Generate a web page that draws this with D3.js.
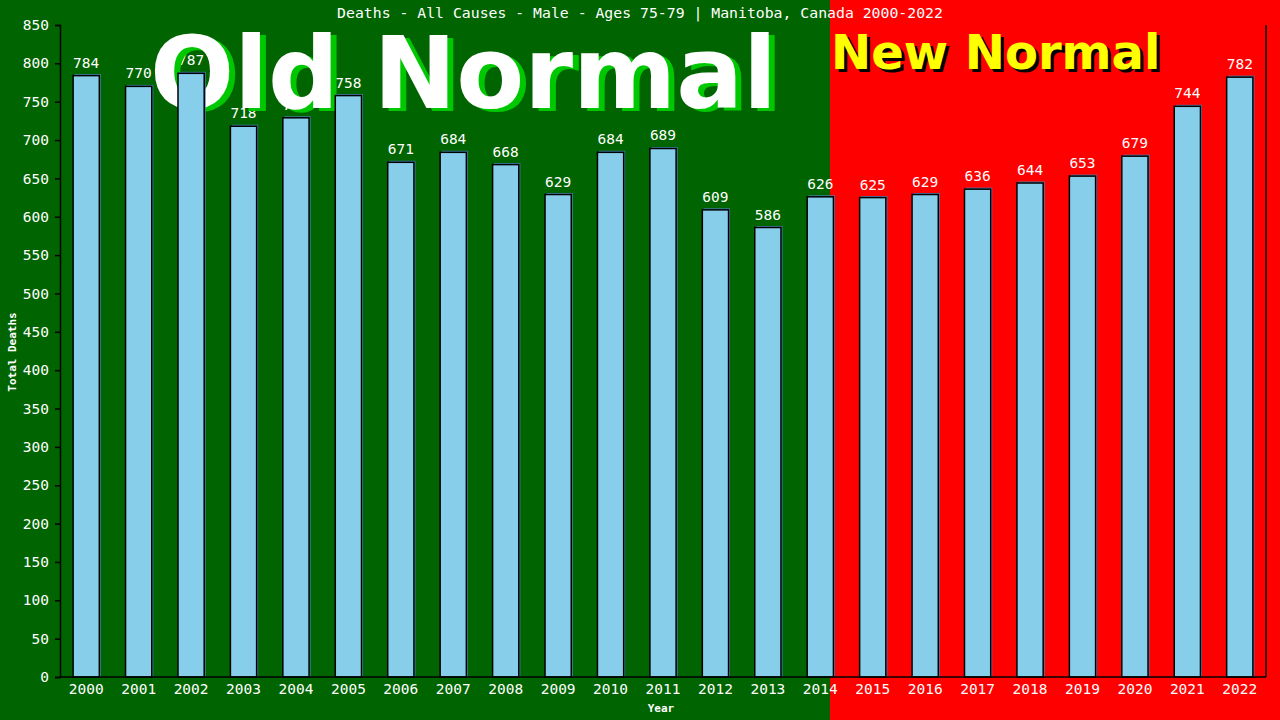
<!DOCTYPE html>
<html>
<head>
<meta charset="utf-8">
<script src="https://cdn.jsdelivr.net/npm/d3@7"></script>
<style>
  html, body { margin: 0; padding: 0; background: #006400; }
  svg { display: block; }
  text { font-family: "DejaVu Sans Mono", monospace; fill: #fff; }
</style>
</head>
<body>
<svg id="chart" width="1280" height="720"></svg>
<script>
// data
var years = ["2000","2001","2002","2003","2004","2005","2006","2007","2008","2009","2010","2011",
             "2012","2013","2014","2015","2016","2017","2018","2019","2020","2021","2022"];
var deaths = [784, 770, 787, 718, 729, 758, 671, 684, 668, 629, 684, 689,
              609, 586, 626, 625, 629, 636, 644, 653, 679, 744, 782];
var yTicks = d3.range(0, 851, 50);
var title = "Deaths - All Causes - Male - Ages 75-79 | Manitoba, Canada 2000-2022";

var svg = d3.select("#chart");
var W = 1280, H = 720;
var margin = { top: 25, right: 14, bottom: 43, left: 60 };
var splitX = 830;

var x = d3.scaleBand()
    .domain(years)
    .range([margin.left, W - margin.right])
    .paddingInner(0.5)
    .paddingOuter(0.25);

var y = d3.scaleLinear()
    .domain([0, 850])
    .range([H - margin.bottom, margin.top]);

// backgrounds: old normal / new normal
svg.append("rect").attr("x", 0).attr("y", 0).attr("width", splitX).attr("height", H).attr("fill", "#006400");
svg.append("rect").attr("x", splitX).attr("y", 0).attr("width", W - splitX).attr("height", H).attr("fill", "#ff0000");

// value labels (drawn under the big caption)
svg.append("g").selectAll("text")
    .data(deaths)
    .enter()
    .append("text")
    .attr("x", function(d, i) { return x(years[i]) + x.bandwidth() / 2; })
    .attr("y", function(d) { return y(d) - 8; })
    .attr("text-anchor", "middle")
    .attr("font-size", "14.5px")
    .text(function(d) { return d; });

// big captions
svg.append("text").attr("x", 156).attr("y", 111)
    .style("font-family", "'DejaVu Sans', sans-serif").style("font-weight", "bold")
    .attr("font-size", "99px").style("fill", "#00c800").text("Old Normal");
svg.append("text").attr("x", 150).attr("y", 108)
    .style("font-family", "'DejaVu Sans', sans-serif").style("font-weight", "bold")
    .attr("font-size", "99px").style("fill", "#ffffff").text("Old Normal");

svg.append("text").attr("x", 834).attr("y", 72)
    .style("font-family", "'DejaVu Sans', sans-serif").style("font-weight", "bold")
    .attr("font-size", "48px").style("fill", "#000").text("New Normal");
svg.append("text").attr("x", 831).attr("y", 69)
    .style("font-family", "'DejaVu Sans', sans-serif").style("font-weight", "bold")
    .attr("font-size", "48px").style("fill", "#ffff00").text("New Normal");

// bars: steelblue edge behind, skyblue body with black outline
var bars = svg.append("g");
bars.selectAll("rect.edge")
    .data(deaths)
    .enter()
    .append("rect")
    .attr("class", "edge")
    .attr("x", function(d, i) { return x(years[i]) + 1.5; })
    .attr("y", function(d) { return y(d) - 1.5; })
    .attr("width", x.bandwidth())
    .attr("height", function(d) { return y(0) - y(d) + 1.5; })
    .attr("fill", "#4682b4");
bars.selectAll("rect.bar")
    .data(deaths)
    .enter()
    .append("rect")
    .attr("class", "bar")
    .attr("x", function(d, i) { return x(years[i]); })
    .attr("y", function(d) { return y(d); })
    .attr("width", x.bandwidth())
    .attr("height", function(d) { return y(0) - y(d); })
    .attr("fill", "#87ceeb")
    .attr("stroke", "#000")
    .attr("stroke-width", 1.5);

// axes
var yAxis = svg.append("g")
    .attr("transform", "translate(" + margin.left + ",0)")
    .call(d3.axisLeft(y).tickValues(yTicks).tickSize(5).tickPadding(6));
var xAxis = svg.append("g")
    .attr("transform", "translate(0," + (H - margin.bottom) + ")")
    .call(d3.axisBottom(x).tickSize(0).tickPadding(7));

[yAxis, xAxis].forEach(function(g) {
  g.select(".domain").attr("stroke", "#000").attr("stroke-width", 1.5);
  g.selectAll(".tick line").attr("stroke", "#000").attr("stroke-width", 1.5);
  g.selectAll(".tick text")
    .style("font-family", "'DejaVu Sans Mono', monospace")
    .attr("font-size", "14.5px")
    .attr("fill", "#fff");
});
xAxis.select(".domain").attr("d", "M" + margin.left + ",0H" + (W - margin.right));

// right border line
svg.append("line")
    .attr("x1", W - margin.right).attr("x2", W - margin.right)
    .attr("y1", margin.top).attr("y2", H - margin.bottom)
    .attr("stroke", "#000").attr("stroke-width", 1.5);

// titles
svg.append("text").attr("x", 640).attr("y", 18)
    .attr("text-anchor", "middle").attr("font-size", "14.8px").text(title);
svg.append("text").attr("x", 661).attr("y", 712)
    .attr("text-anchor", "middle").attr("font-size", "11px").style("font-weight", "bold").text("Year");
svg.append("text")
    .attr("transform", "translate(16,352) rotate(-90)")
    .attr("text-anchor", "middle").attr("font-size", "11px").style("font-weight", "bold").text("Total Deaths");
</script>
</body>
</html>
